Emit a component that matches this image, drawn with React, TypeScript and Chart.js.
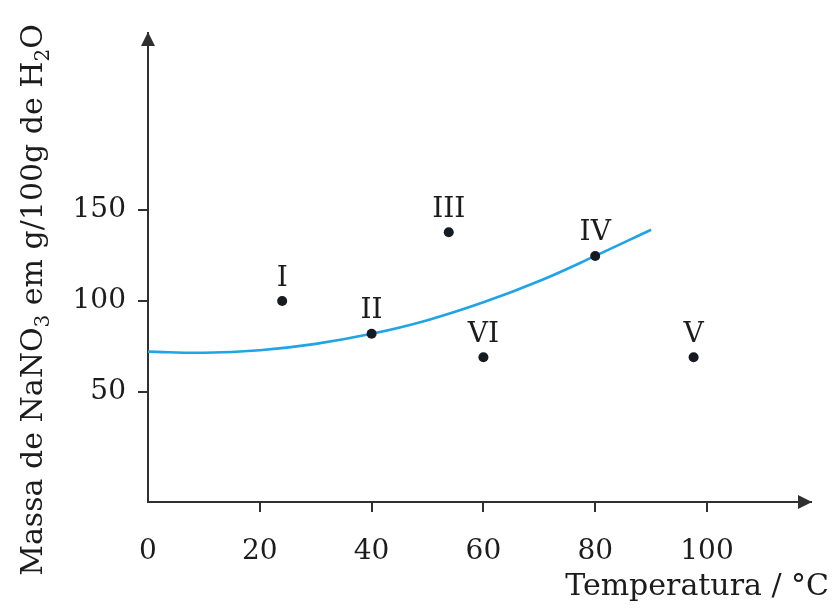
import { useEffect, useRef } from 'react';
import { Chart, registerables } from 'chart.js';

Chart.register(...registerables);

// ---- data ----
const curveTemps = [0, 10, 20, 30, 40, 50, 60, 70, 80, 90];
const curveMass = [72.2, 71.6, 73, 76.5, 82, 89.5, 99.3, 111, 124.8, 139.2];

const sampleLabels = ['I', 'II', 'III', 'IV', 'V', 'VI'];
const sampleTemps = [24, 40, 53.8, 80, 97.6, 60];
const sampleMass = [100, 82, 137.8, 124.8, 69.1, 69.1];

const xTicks = [0, 20, 40, 60, 80, 100];
const yTicks = [50, 100, 150];

const xTitle = 'Temperatura / °C';
const yTitleParts = [
  { text: 'Massa de NaNO', sub: false },
  { text: '3', sub: true },
  { text: ' em g/100g de H', sub: false },
  { text: '2', sub: true },
  { text: 'O', sub: false },
];

const AXIS = '#303030';
const TEXT = '#1c1c1c';
const FAMILY = '"DejaVu Serif", "Liberation Serif", serif';
const CURVE = '#1fa4e6';
const DOT = '#161a21';

const decorPlugin = {
  id: 'decor',
  afterDraw(chart: any) {
    const { ctx, chartArea: a } = chart;
    ctx.save();
    // arrowheads
    ctx.fillStyle = AXIS;
    const yx = a.left;
    ctx.beginPath();
    ctx.moveTo(yx, a.top - 1);
    ctx.lineTo(yx - 7, a.top + 13);
    ctx.lineTo(yx + 7, a.top + 13);
    ctx.closePath();
    ctx.fill();
    ctx.beginPath();
    ctx.moveTo(a.right + 1, a.bottom);
    ctx.lineTo(a.right - 13, a.bottom - 7);
    ctx.lineTo(a.right - 13, a.bottom + 7);
    ctx.closePath();
    ctx.fill();

    // point labels
    ctx.fillStyle = TEXT;
    ctx.font = `28px ${FAMILY}`;
    ctx.textAlign = 'center';
    ctx.textBaseline = 'alphabetic';
    const meta = chart.getDatasetMeta(0);
    meta.data.forEach((el: any, i: number) => {
      ctx.fillText(sampleLabels[i], el.x, el.y - 15.5);
    });

    // x title
    ctx.font = `30px ${FAMILY}`;
    ctx.textAlign = 'right';
    ctx.fillText(xTitle, 829, 595);

    // y title (rotated, with subscripts)
    const mainFont = `30px ${FAMILY}`;
    const subFont = `20px ${FAMILY}`;
    let total = 0;
    yTitleParts.forEach((p) => {
      ctx.font = p.sub ? subFont : mainFont;
      total += ctx.measureText(p.text).width;
    });
    ctx.translate(42, 300);
    ctx.rotate(-Math.PI / 2);
    ctx.textAlign = 'left';
    let x = -total / 2;
    yTitleParts.forEach((p) => {
      ctx.font = p.sub ? subFont : mainFont;
      ctx.fillText(p.text, x, p.sub ? 7 : 0);
      x += ctx.measureText(p.text).width;
    });
    ctx.restore();
  },
};

export default function App() {
  const ref = useRef<HTMLCanvasElement | null>(null);

  useEffect(() => {
    if (!ref.current) return;
    const tickColor = (c: any) => (c.tick && c.tick.value === 0 ? 'rgba(0,0,0,0)' : AXIS);
    const chart = new Chart(ref.current, {
      type: 'scatter',
      data: {
        datasets: [
          {
            data: sampleTemps.map((t, i) => ({ x: t, y: sampleMass[i] })),
            pointRadius: 5,
            pointHoverRadius: 5,
            backgroundColor: DOT,
            borderWidth: 0,
            showLine: false,
            order: 0,
          },
          {
            data: curveTemps.map((t, i) => ({ x: t, y: curveMass[i] })),
            showLine: true,
            pointRadius: 0,
            borderColor: CURVE,
            borderWidth: 2.6,
            tension: 0.4,
            fill: false,
            order: 1,
          },
        ],
      } as any,
      options: {
        animation: false,
        responsive: false,
        events: [],
        layout: { padding: { left: 0, top: 33, right: 24, bottom: 0 } },
        plugins: { legend: { display: false }, tooltip: { enabled: false } },
        scales: {
          x: {
            type: 'linear',
            min: 0,
            max: 118.6,
            afterBuildTicks: (s: any) => {
              s.ticks = xTicks.map((v) => ({ value: v }));
            },
            afterFit: (s: any) => {
              s.height = 108;
            },
            grid: {
              drawOnChartArea: false,
              drawTicks: true,
              tickLength: 10,
              lineWidth: 2,
              color: tickColor,
            },
            border: { display: true, color: AXIS, width: 2 },
            ticks: {
              font: { family: FAMILY, size: 28 },
              color: TEXT,
              padding: 23,
              maxRotation: 0,
              autoSkip: false,
            },
          },
          y: {
            type: 'linear',
            min: -10.4,
            max: 247.3,
            afterBuildTicks: (s: any) => {
              s.ticks = yTicks.map((v) => ({ value: v }));
            },
            afterFit: (s: any) => {
              s.width = 148;
            },
            grid: {
              drawOnChartArea: false,
              drawTicks: true,
              tickLength: 10,
              lineWidth: 2,
              color: AXIS,
            },
            border: { display: true, color: AXIS, width: 2 },
            ticks: {
              font: { family: FAMILY, size: 28 },
              color: TEXT,
              padding: 12,
              autoSkip: false,
            },
          },
        },
      } as any,
      plugins: [decorPlugin],
    });
    return () => chart.destroy();
  }, []);

  return (
    <div style={{ position: 'absolute', left: 0, top: 0, width: 835, height: 610, background: '#fff' }}>
      <canvas ref={ref} width={835} height={610} style={{ display: 'block' }} />
    </div>
  );
}
